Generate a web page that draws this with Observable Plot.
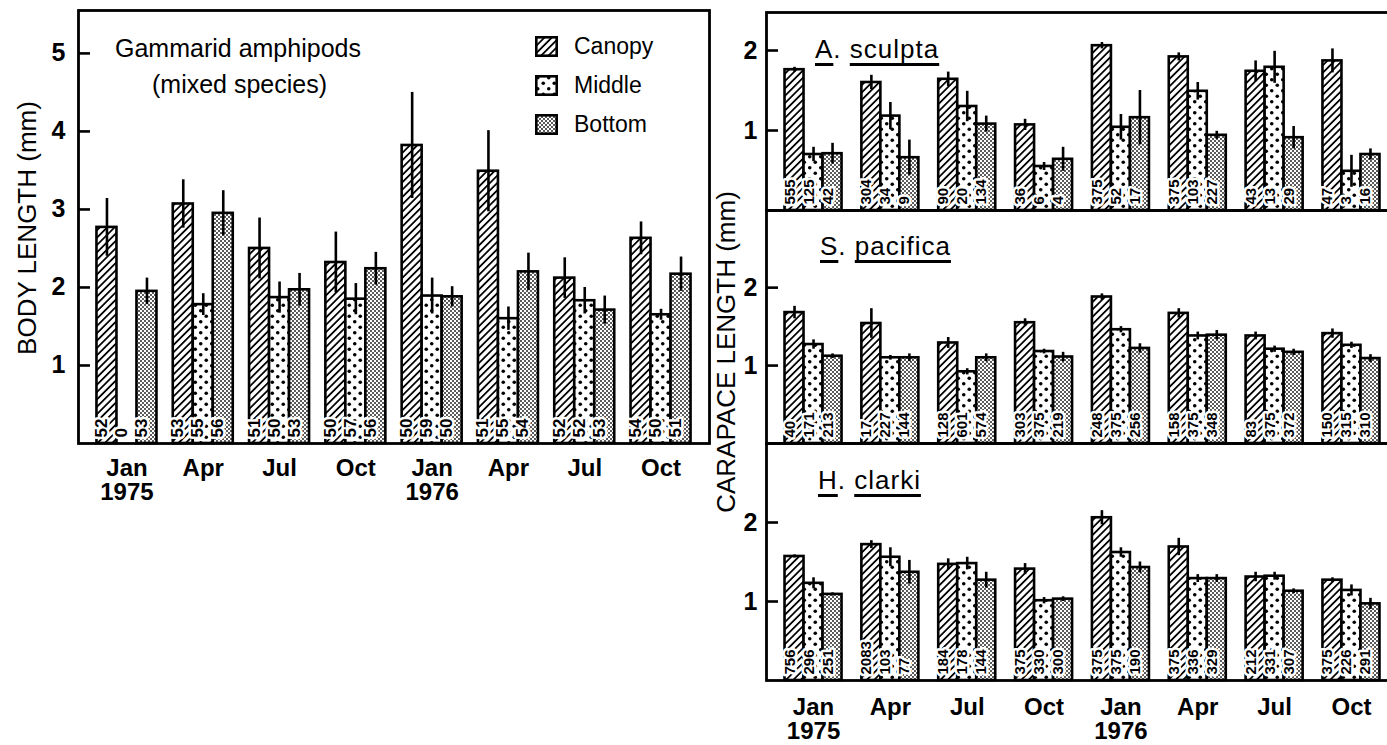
<!DOCTYPE html>
<html>
<head>
<meta charset="utf-8">
<script src="https://cdn.jsdelivr.net/npm/d3@7"></script>
<script src="https://cdn.jsdelivr.net/npm/@observablehq/plot@0.6"></script>
<style>
  html, body { margin: 0; padding: 0; background: #fff; overflow: hidden; }
  #chart { position: relative; width: 1387px; height: 745px; overflow: hidden;
           font-family: "Liberation Sans", Arial, sans-serif; color: #000; }
  .panel { position: absolute; }
  .note { position: absolute; white-space: nowrap; line-height: 1; }
  .ytitle { position: absolute; white-space: nowrap; line-height: 1; font-size: 26px;
            transform: translate(-50%, -50%) rotate(-90deg); }
  .species { font-size: 26px; letter-spacing: 1px; }
  .species u { text-decoration-thickness: 2.5px; text-underline-offset: 5px; }
  .legend-row { position: absolute; left: 535px; display: flex; align-items: center; font-size: 23px; }
  .legend-row svg { margin-right: 16px; }
</style>
</head>
<body>
<svg width="0" height="0" style="position:absolute">
  <defs>
    <!-- canopy: diagonal hatching -->
    <pattern id="fill-canopy" patternUnits="userSpaceOnUse" width="5.2" height="5.2" patternTransform="rotate(45)">
      <rect width="5.2" height="5.2" fill="#fff"/>
      <line x1="2.6" y1="0" x2="2.6" y2="5.2" stroke="#000" stroke-width="1.8"/>
    </pattern>
    <!-- middle: sparse staggered dots -->
    <pattern id="fill-middle" patternUnits="userSpaceOnUse" width="11" height="11">
      <rect width="11" height="11" fill="#fff"/>
      <circle cx="2.75" cy="2.75" r="1.8" fill="#000"/>
      <circle cx="8.25" cy="8.25" r="1.8" fill="#000"/>
    </pattern>
    <!-- bottom: fine stipple -->
    <pattern id="fill-bottom" patternUnits="userSpaceOnUse" width="4" height="4">
      <rect width="4" height="4" fill="#fff"/>
      <rect x="0.2" y="0.2" width="1.6" height="1.6" fill="#000"/>
      <rect x="2.2" y="2.2" width="1.6" height="1.6" fill="#000"/>
    </pattern>
  </defs>
</svg>

<div id="chart"></div>

<script>
// Sampling dates and depth strata
const periods = ["Jan 1975", "Apr 1975", "Jul 1975", "Oct 1975", "Jan 1976", "Apr 1976", "Jul 1976", "Oct 1976"];
const periodLabels = ["Jan\n1975", "Apr", "Jul", "Oct", "Jan\n1976", "Apr", "Jul", "Oct"];
const depths = ["Canopy", "Middle", "Bottom"];
const depthFills = ["url(#fill-canopy)", "url(#fill-middle)", "url(#fill-bottom)"];

// Gammarid amphipods (mixed species): body length (mm); rows = canopy, middle, bottom
const gammaridMean = [
  [2.77, 3.07, 2.50, 2.32, 3.82, 3.49, 2.12, 2.63],
  [0.00, 1.78, 1.87, 1.85, 1.89, 1.60, 1.83, 1.65],
  [1.95, 2.95, 1.97, 2.24, 1.88, 2.20, 1.71, 2.17]
];
const gammaridSE = [
  [0.37, 0.31, 0.39, 0.39, 0.68, 0.52, 0.26, 0.21],
  [0.00, 0.14, 0.20, 0.20, 0.23, 0.15, 0.17, 0.07],
  [0.17, 0.29, 0.21, 0.21, 0.13, 0.24, 0.18, 0.22]
];
const gammaridN = [
  [52, 53, 51, 50, 50, 51, 52, 54],
  [0, 55, 50, 57, 59, 55, 52, 50],
  [53, 56, 53, 56, 50, 54, 53, 51]
];

// A. sculpta: carapace length (mm)
const sculptaMean = [
  [1.76, 1.60, 1.64, 1.07, 2.06, 1.92, 1.74, 1.87],
  [0.70, 1.18, 1.30, 0.55, 1.04, 1.49, 1.79, 0.49],
  [0.71, 0.66, 1.08, 0.64, 1.16, 0.94, 0.91, 0.70]
];
const sculptaSE = [
  [0.03, 0.09, 0.09, 0.07, 0.04, 0.05, 0.13, 0.15],
  [0.09, 0.17, 0.19, 0.05, 0.16, 0.11, 0.20, 0.20],
  [0.13, 0.22, 0.10, 0.15, 0.34, 0.05, 0.14, 0.07]
];
const sculptaN = [
  [555, 304, 90, 36, 375, 375, 43, 47],
  [125, 34, 20, 6, 52, 103, 13, 3],
  [42, 9, 134, 4, 17, 227, 29, 16]
];

// S. pacifica: carapace length (mm)
const pacificaMean = [
  [1.68, 1.54, 1.29, 1.55, 1.88, 1.67, 1.38, 1.41],
  [1.27, 1.10, 0.92, 1.18, 1.46, 1.38, 1.21, 1.26],
  [1.12, 1.10, 1.10, 1.11, 1.22, 1.39, 1.17, 1.09]
];
const pacificaSE = [
  [0.08, 0.19, 0.07, 0.05, 0.04, 0.06, 0.05, 0.06],
  [0.06, 0.03, 0.04, 0.03, 0.04, 0.05, 0.04, 0.04],
  [0.03, 0.05, 0.05, 0.06, 0.06, 0.06, 0.04, 0.05]
];
const pacificaN = [
  [40, 17, 128, 303, 248, 158, 83, 150],
  [171, 227, 601, 375, 375, 375, 375, 315],
  [213, 144, 574, 219, 256, 348, 372, 310]
];

// H. clarki: carapace length (mm)
const clarkiMean = [
  [1.57, 1.72, 1.47, 1.41, 2.06, 1.69, 1.31, 1.27],
  [1.23, 1.56, 1.48, 1.01, 1.62, 1.29, 1.32, 1.14],
  [1.09, 1.37, 1.27, 1.03, 1.43, 1.29, 1.13, 0.97]
];
const clarkiSE = [
  [0.02, 0.05, 0.07, 0.07, 0.09, 0.11, 0.06, 0.03],
  [0.07, 0.12, 0.08, 0.04, 0.06, 0.05, 0.05, 0.07],
  [0.02, 0.15, 0.10, 0.03, 0.07, 0.05, 0.03, 0.07]
];
const clarkiN = [
  [756, 2083, 184, 375, 375, 375, 212, 375],
  [296, 103, 178, 330, 375, 336, 331, 226],
  [251, 77, 144, 300, 190, 329, 307, 291]
];

function rowsOf(mean, se, n) {
  return depths.flatMap((depth, k) =>
    periods.map((period, i) => ({period, depth, k, mean: mean[k][i], se: se[k][i], n: n[k][i]})));
}

// One panel of grouped bars: three depth bars side by side inside each date band
function barPanel(rows, o) {
  const plotWidth = o.width - o.marginLeft - o.marginRight;
  const step = plotWidth / (periods.length - o.padInner + 2 * o.padOuter);
  const bw = step * (1 - o.padInner) / depths.length;
  const marks = [];
  depths.forEach((depth, k) => {
    const sub = rows.filter(d => d.k === k);
    marks.push(
      Plot.barY(sub.filter(d => d.mean > 0), {
        x: "period", y: "mean", fill: depthFills[k], stroke: "#000", strokeWidth: 2.6,
        insetLeft: k * bw, insetRight: (depths.length - 1 - k) * bw
      }),
      Plot.text(sub, {
        x: "period", frameAnchor: "bottom", text: d => String(d.n), rotate: -90,
        textAnchor: "start", dx: (k - 1) * bw, dy: -o.labelLift,
        fontSize: o.countSize, fontWeight: "bold", fill: "#000",
        stroke: "#fff", strokeWidth: o.halo, paintOrder: "stroke"
      }),
      Plot.ruleX(sub.filter(d => d.se > 0), {
        x: "period", y1: d => d.mean - d.se, y2: d => d.mean + d.se,
        dx: (k - 1) * bw, stroke: "#000", strokeWidth: 2.6
      })
    );
  });
  marks.push(
    Plot.frame({stroke: "#000", strokeWidth: 2.8}),
    // inward tick marks along the left edge of the frame
    Plot.tickY(o.ticks, {y: d => d, stroke: "#000", strokeWidth: 2.6, insetRight: plotWidth - 12}),
    Plot.axisY({
      ticks: o.ticks, tickSize: 0, tickPadding: o.tickPadding,
      fontSize: 25, fontWeight: "bold", label: null, tickFormat: d => String(d)
    })
  );
  if (o.showX) {
    marks.push(Plot.axisX({
      tickSize: 0, tickPadding: o.xPadding, fontSize: 24, fontWeight: "bold",
      lineHeight: 1.02, label: null, tickFormat: d => periodLabels[periods.indexOf(d)]
    }));
  }
  const svg = Plot.plot({
    width: o.width, height: o.height,
    marginLeft: o.marginLeft, marginRight: o.marginRight,
    marginTop: o.marginTop, marginBottom: o.marginBottom,
    style: {fontFamily: "'Liberation Sans', Arial, sans-serif", background: "transparent", overflow: "visible", color: "#000"},
    x: {type: "band", domain: periods, paddingInner: o.padInner, paddingOuter: o.padOuter, round: false, axis: o.showX ? undefined : null},
    y: {domain: [0, o.yMax], nice: false},
    marks
  });
  svg.classList.add("panel");
  svg.style.left = o.left + "px";
  svg.style.top = o.top + "px";
  return svg;
}

const chart = document.getElementById("chart");

// Left: gammarid amphipods
chart.append(barPanel(rowsOf(gammaridMean, gammaridSE, gammaridN), {
  left: 0, top: 0, width: 730, height: 510,
  marginLeft: 78, marginRight: 21, marginTop: 10, marginBottom: 67,
  padInner: 0.2136, padOuter: 0.242, yMax: 5.55, ticks: [1, 2, 3, 4, 5],
  tickPadding: 13, showX: true, xPadding: 15, countSize: 17, halo: 5, labelLift: 6
}));

// Right: three decapod panels stacked
const rightCommon = {
  left: 730, width: 670, marginLeft: 36, marginRight: 2,
  padInner: 0.258, padOuter: 0.241, ticks: [1, 2], tickPadding: 9,
  countSize: 15, halo: 5, labelLift: 6
};
chart.append(barPanel(rowsOf(sculptaMean, sculptaSE, sculptaN), {
  ...rightCommon, top: 0, height: 215, marginTop: 12, marginBottom: 5, yMax: 2.475, showX: false
}));
chart.append(barPanel(rowsOf(pacificaMean, pacificaSE, pacificaN), {
  ...rightCommon, top: 205, height: 243, marginTop: 5, marginBottom: 5, yMax: 2.99, showX: false
}));
chart.append(barPanel(rowsOf(clarkiMean, clarkiSE, clarkiN), {
  ...rightCommon, top: 438, height: 307, marginTop: 5, marginBottom: 65, yMax: 3.0, showX: true, xPadding: 17
}));

// Text annotations, titles and legend
function note(html, cls, left, top, extra = "") {
  const div = document.createElement("div");
  div.className = cls;
  div.innerHTML = html;
  div.style.cssText += `left:${left}px;top:${top}px;${extra}`;
  chart.append(div);
  return div;
}
note("Gammarid amphipods", "note", 115, 36, "font-size:25px;");
note("(mixed species)", "note", 152, 72, "font-size:25px;");
note("BODY LENGTH (mm)", "ytitle", 27, 228);
note("CARAPACE LENGTH (mm)", "ytitle", 726, 352);
note("<u>A</u>. <u>sculpta</u>", "note species", 815, 36);
note("<u>S</u>. <u>pacifica</u>", "note species", 820, 233);
note("<u>H</u>. <u>clarki</u>", "note species", 818, 467);

depths.forEach((depth, k) => {
  const row = document.createElement("div");
  row.className = "legend-row";
  row.style.top = [33, 72, 111][k] + "px";
  row.innerHTML = `<svg width="23" height="21"><rect x="1.3" y="1.3" width="20.4" height="18.4" fill="${depthFills[k]}" stroke="#000" stroke-width="2.6"/></svg><span>${depth}</span>`;
  chart.append(row);
});
</script>
</body>
</html>
